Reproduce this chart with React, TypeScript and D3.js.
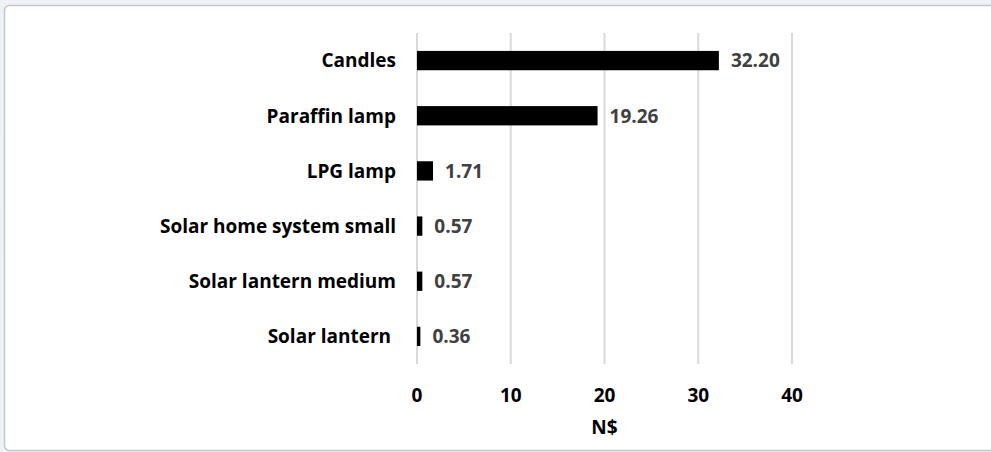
import React from "react";
import * as d3 from "d3";

const categories = [
  "Candles",
  "Paraffin lamp",
  "LPG lamp",
  "Solar home system small",
  "Solar lantern medium",
  "Solar lantern ",
];
const values = [32.2, 19.26, 1.71, 0.57, 0.57, 0.36];
const valueLabels = ["32.20", "19.26", "1.71", "0.57", "0.57", "0.36"];
const xTicks = [0, 10, 20, 30, 40];
const xTitle = "N$";

const W = 991;
const H = 452;
const FONT = "'Open Sans', sans-serif";
const FS = 19;

export default function App() {
  const x = d3.scaleLinear().domain([0, 40]).range([417, 792]);
  const y = d3
    .scaleBand<string>()
    .domain(categories)
    .range([33, 364])
    .paddingInner(0.65)
    .paddingOuter(0.325);
  const bh = y.bandwidth();

  return (
    <div style={{ position: "fixed", left: 0, top: 0 }}>
      <svg width={W} height={H} style={{ display: "block" }}>
        <rect x={0} y={0} width={W} height={H} fill="#eef2f6" />
        <rect
          x={4.5}
          y={5.5}
          width={W + 10}
          height={445}
          rx={5}
          fill="#ffffff"
          stroke="#c6c6c6"
          strokeWidth={1.5}
        />
        {xTicks.map((t) => (
          <line
            key={t}
            x1={x(t)}
            x2={x(t)}
            y1={33}
            y2={364}
            stroke="#d9d9d9"
            strokeWidth={2}
          />
        ))}
        {categories.map((c, i) => (
          <g key={c}>
            <rect
              x={x(0)}
              y={y(c)!}
              width={Math.max(2, x(values[i]) - x(0))}
              height={bh}
              fill="#000000"
            />
            <text
              x={x(values[i]) + 12}
              y={y(c)! + bh / 2}
              dy="0.36em"
              fontFamily={FONT}
              fontWeight={700}
              fontSize={FS}
              fill="#404040"
            >
              {valueLabels[i]}
            </text>
            <text
              x={396}
              y={y(c)! + bh / 2}
              dy="0.36em"
              textAnchor="end"
              fontFamily={FONT}
              fontWeight={700}
              fontSize={FS}
              fill="#000000"
              style={{ whiteSpace: "pre" }}
            >
              {c}
            </text>
          </g>
        ))}
        {xTicks.map((t) => (
          <text
            key={"t" + t}
            x={x(t)}
            y={395}
            dy="0.36em"
            textAnchor="middle"
            fontFamily={FONT}
            fontWeight={700}
            fontSize={FS}
            fill="#000000"
          >
            {t}
          </text>
        ))}
        <text
          x={x(20)}
          y={427}
          dy="0.36em"
          textAnchor="middle"
          fontFamily={FONT}
          fontWeight={700}
          fontSize={FS}
          fill="#000000"
        >
          {xTitle}
        </text>
      </svg>
    </div>
  );
}
